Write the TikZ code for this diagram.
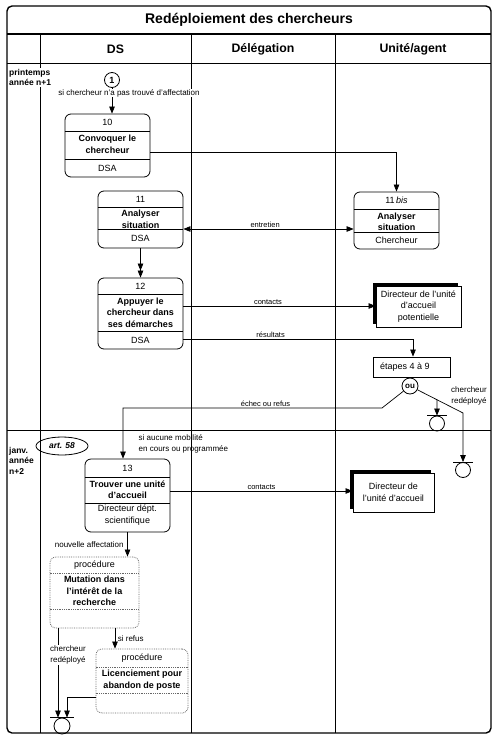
\documentclass[tikz,border=0pt]{standalone}
\usepackage{fontspec}
\setmainfont{Liberation Sans}
\usetikzlibrary{arrows.meta,shapes.geometric,shadows}
\begin{document}
\begin{tikzpicture}[x=1pt,y=-1pt,
  arr/.style={-{Triangle[length=7pt,width=5.5pt]}, line width=0.7pt},
  dblarr/.style={{Triangle[length=7pt,width=5.5pt]}-{Triangle[length=7pt,width=5.5pt]}, line width=0.7pt},
  twoarr/.style={-{Triangle[length=7pt,width=5.5pt]Triangle[length=7pt,width=5.5pt]}, line width=0.7pt},
  ln/.style={line width=0.7pt},
  frame/.style={line width=0.7pt},
  box/.style={draw, line width=0.8pt, rounded corners=6pt, inner sep=0pt},
  proc/.style={draw=black!60, densely dotted, line width=0.8pt, rounded corners=6pt, inner sep=0pt},
  pdiv/.style={draw=black!60, densely dotted, line width=0.8pt},
  ttl/.style={font=\fontsize{9}{11.5}\selectfont\bfseries, align=center, inner sep=0pt},
  txt/.style={font=\fontsize{9}{11.5}\selectfont, align=center, inner sep=0pt},
  lab/.style={font=\fontsize{7.5}{9}\selectfont, inner sep=0.6pt, anchor=south},
  ann/.style={font=\fontsize{8}{11}\selectfont, inner sep=0.5pt},
  per/.style={font=\fontsize{8.5}{10.5}\selectfont\bfseries, align=left, inner sep=1pt, anchor=north west, fill=white},
  shbox/.style={draw, fill=white, line width=0.8pt, inner sep=0pt, align=center,
     font=\fontsize{9}{11.5}\selectfont,
     general shadow={fill=black, shadow xshift=-3pt, shadow yshift=3pt}},
  term/.style={draw, circle, minimum size=15pt, inner sep=0pt, line width=0.8pt},
  head/.style={font=\fontsize{12.3}{14}\selectfont\bfseries}
]
\useasboundingbox (0,0) rectangle (498,742);

% frame
\draw[line width=1.4pt, rounded corners=5pt] (7,6) rectangle (491,733);
\draw[line width=1.6pt] (7,34) -- (491,34);
\draw[frame] (7,63) -- (491,63);
\draw[frame] (7,430) -- (491,430);
\draw[frame] (40,34) -- (40,733);
\draw[frame] (191,34) -- (191,733);
\draw[frame] (335,34) -- (335,733);

\node[font=\fontsize{14}{16}\selectfont\bfseries] (title) at (249,20) {Redéploiement des chercheurs};
\node[head] (hds) at (115.5,49) {DS};
\node[head] (hdel) at (263,49) {Délégation};
\node[head] (hua) at (413,49) {Unité/agent};

% periods
\node[per] (p1lab) at (8,68) {printemps\\année n+1};
\node[per] (p2lab) at (8,446) {janv.\\année\\n+2};

% start circle
\node[draw, circle, minimum size=15pt, inner sep=0pt, line width=0.8pt,
      font=\fontsize{9}{10}\selectfont\bfseries] (c1) at (112,80) {1};

% box 10
\node[box, minimum width=85pt, minimum height=63pt] (b10) at (107.5,145.5) {};
\draw[ln] (b10.west |- 0,131) -- (b10.east |- 0,131);
\draw[ln] (b10.west |- 0,159) -- (b10.east |- 0,159);
\node[txt] at (b10.center |- 0,122.5) {10};
\node[ttl] at (b10.center |- 0,144.5) {Convoquer le\\chercheur};
\node[txt] at (b10.center |- 0,168) {DSA};

% box 11
\node[box, minimum width=85pt, minimum height=57pt] (b11) at (140.5,219.5) {};
\draw[ln] (b11.west |- 0,207) -- (b11.east |- 0,207);
\draw[ln] (b11.west |- 0,229) -- (b11.east |- 0,229);
\node[txt] at (b11.center |- 0,199) {11};
\node[ttl] at (b11.center |- 0,219.5) {Analyser\\situation};
\node[txt] at (b11.center |- 0,238) {DSA};

% box 12
\node[box, minimum width=85pt, minimum height=71pt] (b12) at (140.5,313.5) {};
\draw[ln] (b12.west |- 0,294) -- (b12.east |- 0,294);
\draw[ln] (b12.west |- 0,331) -- (b12.east |- 0,331);
\node[txt] at (b12.center |- 0,286) {12};
\node[ttl] at (b12.center |- 0,312.5) {Appuyer le\\chercheur dans\\ses démarches};
\node[txt] at (b12.center |- 0,340) {DSA};

% box 11bis
\node[box, minimum width=85pt, minimum height=57pt] (b11b) at (396.5,220.5) {};
\draw[ln] (b11b.west |- 0,209) -- (b11b.east |- 0,209);
\draw[ln] (b11b.west |- 0,232) -- (b11b.east |- 0,232);
\node[txt] at (b11b.center |- 0,200.5) {11\,\textit{bis}};
\node[ttl] at (b11b.center |- 0,222) {Analyser\\situation};
\node[txt] at (b11b.center |- 0,240.5) {Chercheur};

% directeur potentiel
\node[shbox, minimum width=85pt, minimum height=41pt] (dir1) at (418.5,306.5)
  {Directeur de l'unité\\d'accueil\\potentielle};

% etapes
\node[draw, line width=0.8pt, minimum width=77pt, minimum height=20pt, inner sep=0pt,
      font=\fontsize{9}{11}\selectfont] (etap) at (411.5,367) {};
\node[font=\fontsize{9}{11}\selectfont, anchor=west, inner sep=0pt] at (380,367) {étapes 4 à 9};
\node[draw, circle, minimum size=16pt, inner sep=0pt, line width=0.8pt,
      font=\fontsize{8}{9}\selectfont\bfseries] (ou) at (410,386) {ou};

\node[term] (t1) at (437,423.5) {};
\draw[ln] ([xshift=-10pt]t1.north) -- ([xshift=10pt]t1.north);
\node[term] (t2) at (463,470) {};
\draw[ln] ([xshift=-10pt]t2.north) -- ([xshift=10pt]t2.north);

\node[ann, align=center] at (469,395.5) {chercheur\\redéployé};

% period 2
\node[draw, ellipse, line width=0.8pt, minimum width=52pt, minimum height=18pt, inner sep=0pt,
      font=\fontsize{8.5}{10}\selectfont\bfseries\itshape] (art) at (62,446) {art. 58};
\node[ann, align=left, anchor=west] at (138,443.5) {si aucune mobilité\\en cours ou programmée};

% box 13
\node[box, minimum width=85pt, minimum height=73pt] (b13) at (127.5,495.5) {};
\draw[ln] (b13.west |- 0,477) -- (b13.east |- 0,477);
\draw[ln] (b13.west |- 0,503) -- (b13.east |- 0,503);
\node[txt] at (b13.center |- 0,468) {13};
\node[ttl] at (b13.center |- 0,489.5) {Trouver une unité\\d'accueil};
\node[txt] at (b13.center |- 0,515) {Directeur dépt.\\scientifique};

% directeur 2
\node[shbox, minimum width=81pt, minimum height=39pt] (dir2) at (393.5,492.5)
  {Directeur de\\l'unité d'accueil};

% procedure 1
\node[proc, minimum width=89pt, minimum height=71pt] (pr1) at (94.5,592.5) {};
\draw[pdiv] (pr1.west |- 0,573) -- (pr1.east |- 0,573);
\draw[pdiv] (pr1.west |- 0,609) -- (pr1.east |- 0,609);
\node[txt] at (pr1.center |- 0,565) {procédure};
\node[ttl] at (pr1.center |- 0,591) {Mutation dans\\l'intérêt de la\\recherche};

% procedure 2
\node[proc, minimum width=92pt, minimum height=64pt] (pr2) at (142,681) {};
\draw[pdiv] (pr2.west |- 0,667) -- (pr2.east |- 0,667);
\draw[pdiv] (pr2.west |- 0,693) -- (pr2.east |- 0,693);
\node[txt] at (pr2.center |- 0,658) {procédure};
\node[ttl] at (pr2.center |- 0,680) {Licenciement pour\\abandon de poste};

\node[term, minimum size=16pt] (t3) at (62,726) {};
\draw[ln] ([xshift=-12pt]t3.north) -- ([xshift=12pt]t3.north);

% helper coordinates
\coordinate (k1) at (382,408);
\coordinate (kx13) at (123,0);
\coordinate (k3) at (463,413);
\coordinate (kx1) at (115,0);
\coordinate (kxa) at (58,0);
\coordinate (kxb) at (67,0);

% connectors
\draw[arr] (c1) -- (c1 |- b10.north);
\node[ann, fill=white] at (129,93) {si chercheur n'a pas trouvé d'affectation};

\draw[arr] (b10.east |- 0,152) -| (b11b.north);
\draw[dblarr] (b11.east |- 0,229) -- node[lab, pos=0.48] {entretien} (b11b.west |- 0,229);
\draw[twoarr] (b11.south) -- (b12.north);
\draw[arr] (b12.east |- 0,306) -- node[lab, pos=0.44] {contacts} (dir1.west |- 0,306);
\draw[arr] (b12.east |- 0,339) -| node[lab, pos=0.19] {résultats} (etap.north -| 413,0);
\draw[ln] (etap.south -| ou) -- (ou.north);
\draw[arr] (ou) -- (k1) -| node[lab, pos=0.225] {échec ou refus} (b13.north -| kx13);
\draw[arr] (ou) -- (k3) -- (t2.north);
\draw[arr] (intersection of ou.center--k3 and t1.center--t1.north) -- (t1.north);

\draw[arr] (b13.east |- 0,491) -- node[lab, pos=0.5] {contacts} (dir2.west |- 0,491);
\draw[arr] (b13.south) -- node[ann, anchor=east, pos=0.5, xshift=-3pt] {nouvelle affectation} (b13.south |- pr1.north);
\draw[arr] (pr1.south -| kx1) -- node[ann, anchor=west, pos=0.5, xshift=2pt] {si refus} (pr2.north -| kx1);
\draw[arr] (pr1.south -| kxa) -- (t3.north -| kxa);
\node[ann, fill=white, align=center] at (68,655) {chercheur\\redéployé};
\draw[arr] (pr2.west |- 0,697) -| (t3.north -| kxb);
\end{tikzpicture}
\end{document}
